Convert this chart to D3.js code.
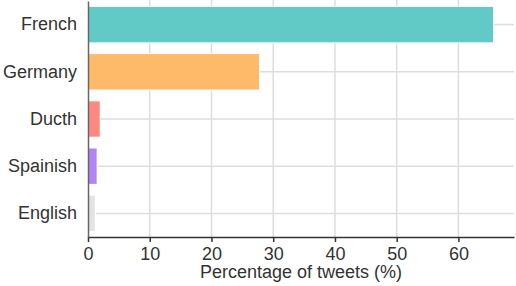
<!DOCTYPE html>
<html lang="en">
<meta charset="utf-8">
<head>
    <style>
        body { margin: 0; background: #fff; }
        text { font-family: "Liberation Sans", Arial, sans-serif; fill: #333; }
    </style>
    <script src="https://d3js.org/d3.v7.min.js"></script>
</head>
<body>
</body>
<script>
    // data
    var languages = ["French", "Germany", "Ducth", "Spainish", "English"];
    var percentages = [65.6, 27.7, 1.9, 1.4, 1.1];
    var barColors = ["#61cac6", "#feba68", "#fe8980", "#b185f4", "#e3e3e3"];
    var xTicks = [0, 10, 20, 30, 40, 50, 60];

    var svgWidth = 516, svgHeight = 286;
    var plotLeft = 88, plotRight = 514, plotTop = 1, plotBottom = 237;

    var svg = d3.select("body").append("svg")
        .attr("width", svgWidth)
        .attr("height", svgHeight);

    var x = d3.scaleLinear().domain([0, 69]).range([plotLeft, plotRight]);
    var y = d3.scaleBand().domain(languages).range([plotTop, plotBottom])
        .paddingInner(0.25).paddingOuter(0.125);

    // grid
    svg.append("g").selectAll("line")
        .data(xTicks.slice(1))
        .enter().append("line")
        .attr("x1", d => x(d)).attr("x2", d => x(d))
        .attr("y1", 0).attr("y2", plotBottom)
        .attr("stroke", "#dddddd").attr("stroke-width", 1.5);

    svg.append("g").selectAll("line")
        .data(languages)
        .enter().append("line")
        .attr("x1", plotLeft).attr("x2", plotRight)
        .attr("y1", d => y(d) + y.bandwidth() / 2)
        .attr("y2", d => y(d) + y.bandwidth() / 2)
        .attr("stroke", "#dddddd").attr("stroke-width", 1.5);

    // bars
    svg.append("g").selectAll("rect")
        .data(languages)
        .enter().append("rect")
        .attr("x", x(0))
        .attr("y", d => y(d))
        .attr("width", (d, i) => x(percentages[i]) - x(0))
        .attr("height", y.bandwidth())
        .attr("fill", (d, i) => barColors[i])
        .attr("stroke", "#fff")
        .attr("stroke-width", 2)
        .attr("paint-order", "stroke");

    // bottom axis
    var xAxis = svg.append("g")
        .attr("transform", "translate(0," + plotBottom + ")")
        .call(d3.axisBottom(x).tickValues(xTicks).tickSize(5).tickPadding(5).tickSizeOuter(0));
    xAxis.select(".domain").attr("stroke", "#333").attr("stroke-width", 1.5);
    xAxis.selectAll(".tick line").attr("stroke", "#333").attr("stroke-width", 1.5);
    xAxis.selectAll("text").attr("font-size", 18).attr("fill", "#333")
        .style("font-family", "'Liberation Sans', Arial, sans-serif");

    // left axis
    var yAxis = svg.append("g")
        .attr("transform", "translate(" + plotLeft + ",0)")
        .call(d3.axisLeft(y).tickSize(0).tickPadding(11));
    yAxis.select(".domain").attr("stroke", "#666").attr("stroke-width", 1.5);
    yAxis.selectAll("text").attr("font-size", 18).attr("fill", "#333")
        .style("font-family", "'Liberation Sans', Arial, sans-serif");

    // axis title
    svg.append("text")
        .attr("x", (plotLeft + plotRight) / 2)
        .attr("y", 278)
        .attr("text-anchor", "middle")
        .attr("font-size", 18)
        .text("Percentage of tweets (%)");
</script>
</html>
